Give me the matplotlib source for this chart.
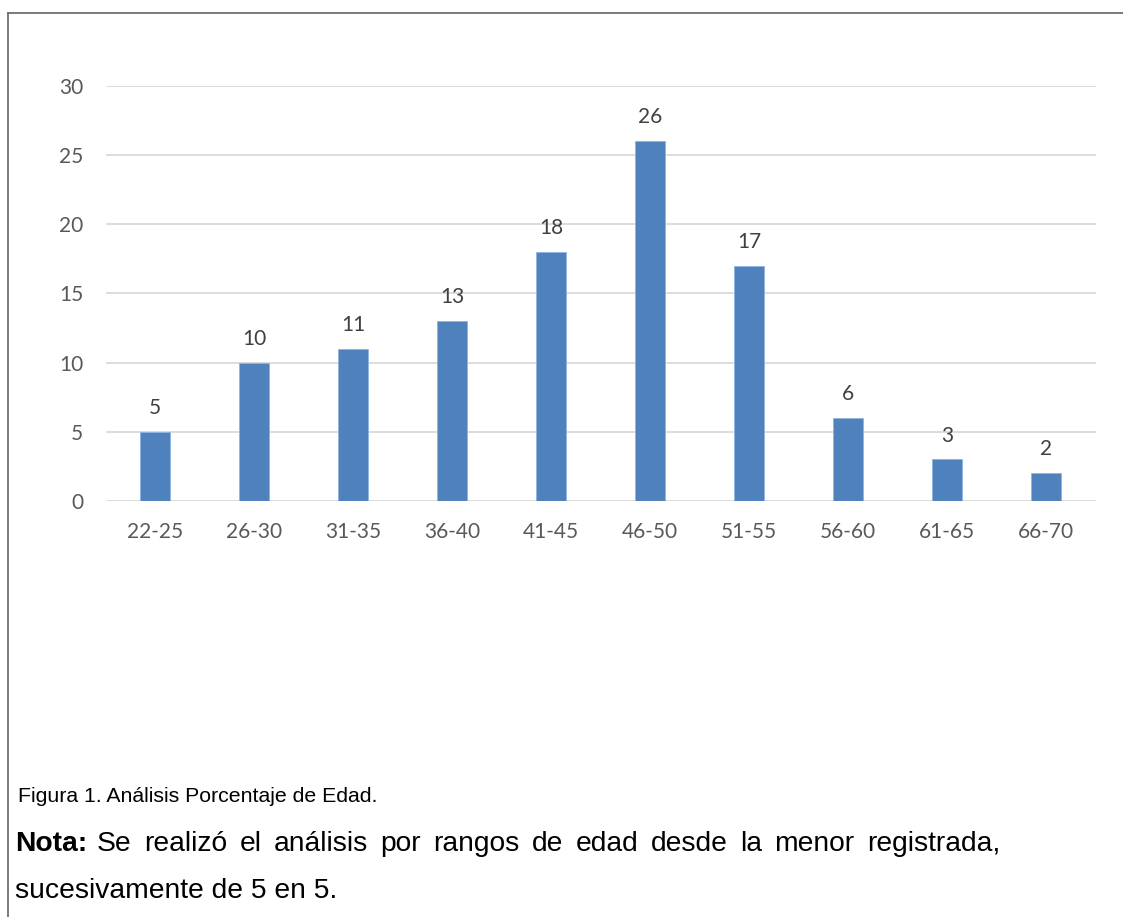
import matplotlib.pyplot as plt
from matplotlib.lines import Line2D

age_ranges = ["22-25", "26-30", "31-35", "36-40", "41-45",
              "46-50", "51-55", "56-60", "61-65", "66-70"]
counts = [5, 10, 11, 13, 18, 26, 17, 6, 3, 2]
y_ticks = [0, 5, 10, 15, 20, 25, 30]

caption = "Figura 1. Análisis Porcentaje de Edad."
note_head = "Nota:"
note_line1 = "Se realizó el análisis por rangos de edad desde la menor registrada,"
note_line2 = "sucesivamente de 5 en 5."

W, H = 1123, 917
fig = plt.figure(figsize=(W / 100, H / 100), dpi=100)


def px(x, y):
    """Pixel position (from top-left) to figure fraction."""
    return x / W, 1 - y / H


# plot area in pixels
left, right, top, bottom = 105.5, 1095.5, 86, 501
ax = fig.add_axes([left / W, 1 - bottom / H, (right - left) / W, (bottom - top) / H])

chart_font = "Lato"
x = list(range(len(age_ranges)))
ax.bar(x, counts, width=0.31, color="#4F81BD", edgecolor="#8EB4E3", linewidth=0.6, zorder=3)
for xi, v in zip(x, counts):
    ax.annotate(str(v), (xi, v), xytext=(0, 10), textcoords="offset points",
                ha="center", va="bottom", fontsize=15, color="#404040", family=chart_font)

ax.set_xlim(-0.5, len(age_ranges) - 0.5)
ax.set_ylim(0, 30)
ax.set_yticks(y_ticks)
ax.set_xticks(x)
ax.set_xticklabels(age_ranges)
ax.grid(axis="y", color="#D9D9D9", linewidth=1.3, zorder=0)
for s in ax.spines.values():
    s.set_visible(False)
ax.tick_params(length=0, labelsize=15, labelcolor="#595959")
ax.tick_params(axis="y", pad=16)
ax.tick_params(axis="x", pad=15)
for lbl in ax.get_xticklabels() + ax.get_yticklabels():
    lbl.set_family(chart_font)

# frame around the figure (top and left edges)
fig.add_artist(Line2D([7.5 / W, 1.0], [1 - 12.5 / H] * 2, color="#707070", lw=1.3))
fig.add_artist(Line2D([7.5 / W] * 2, [0, 1 - 12.5 / H], color="#707070", lw=1.3))

cap_font = "Liberation Sans"
fs = 20.3
fig.text(*px(18, 802), caption, fontsize=15.3, family=cap_font,
         va="baseline", ha="left", color="black")
fig.text(*px(15, 851), note_head, fontsize=fs, family=cap_font,
         fontweight="bold", va="baseline", ha="left", color="black")

# justified first line of the note: spread the words between two x limits
renderer = fig.canvas.get_renderer()
words = note_line1.split()
x0, x1 = 97, 1000
word_objs = [fig.text(0, 0, w, fontsize=fs, family=cap_font, va="baseline",
                      ha="left", color="black") for w in words]
widths = [t.get_window_extent(renderer).width for t in word_objs]
gap = (x1 - x0 - sum(widths)) / (len(words) - 1)
cur = x0
for t, w in zip(word_objs, widths):
    t.set_position(px(cur, 851))
    cur += w + gap

fig.text(*px(15, 898), note_line2, fontsize=fs, family=cap_font,
         va="baseline", ha="left", color="black")

fig.savefig("out.png", dpi=100)
